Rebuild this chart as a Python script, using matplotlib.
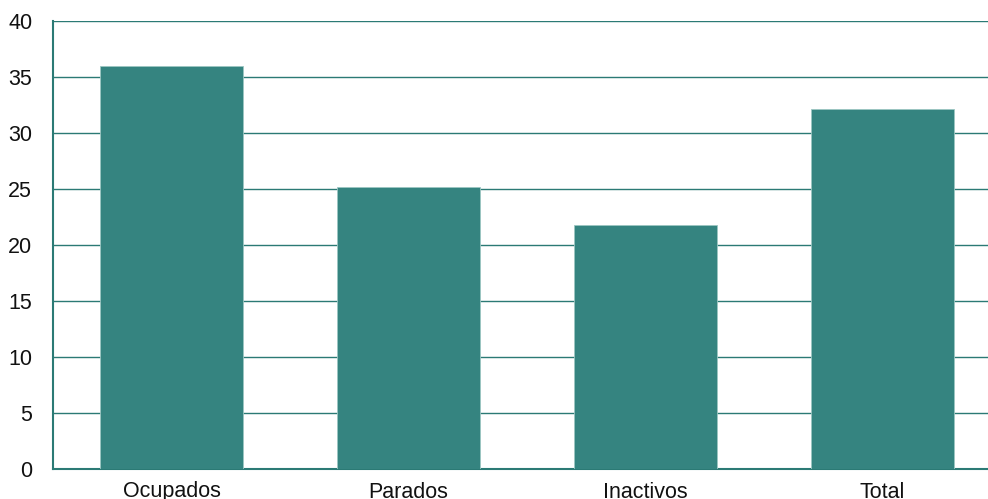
import matplotlib
matplotlib.use("Agg")
import matplotlib.pyplot as plt

categories = ["Ocupados", "Parados", "Inactivos", "Total"]
values = [36.0, 25.2, 21.8, 32.1]
yticks = [0, 5, 10, 15, 20, 25, 30, 35, 40]

bar_color = "#358480"
line_color = "#2b7a75"

plt.rcParams["font.family"] = ["Liberation Sans", "DejaVu Sans"]

fig = plt.figure(figsize=(9.88, 4.99), dpi=100)
ax = fig.add_axes([53 / 988, 30 / 499, 948 / 988, 448 / 499])

ax.bar(range(len(categories)), values, width=0.6, color=bar_color,
       edgecolor="#9cc6c2", linewidth=0.6, zorder=3)

ax.set_xlim(-0.5, len(categories) - 0.5)
ax.set_ylim(0, 40)
ax.set_yticks(yticks)
ax.set_xticks(range(len(categories)))
ax.set_xticklabels(categories)

ax.yaxis.grid(True, color=line_color, linewidth=1.0, zorder=0)
ax.set_axisbelow(True)

for side in ["top", "right"]:
    ax.spines[side].set_visible(False)
ax.spines["left"].set_color(line_color)
ax.spines["left"].set_linewidth(1.5)
ax.spines["bottom"].set_color(line_color)
ax.spines["bottom"].set_linewidth(1.5)

ax.tick_params(axis="both", length=0, labelsize=15.5, colors="#111111")
ax.tick_params(axis="y", pad=15)
ax.tick_params(axis="x", pad=9)

fig.savefig("out.png", dpi=100)
